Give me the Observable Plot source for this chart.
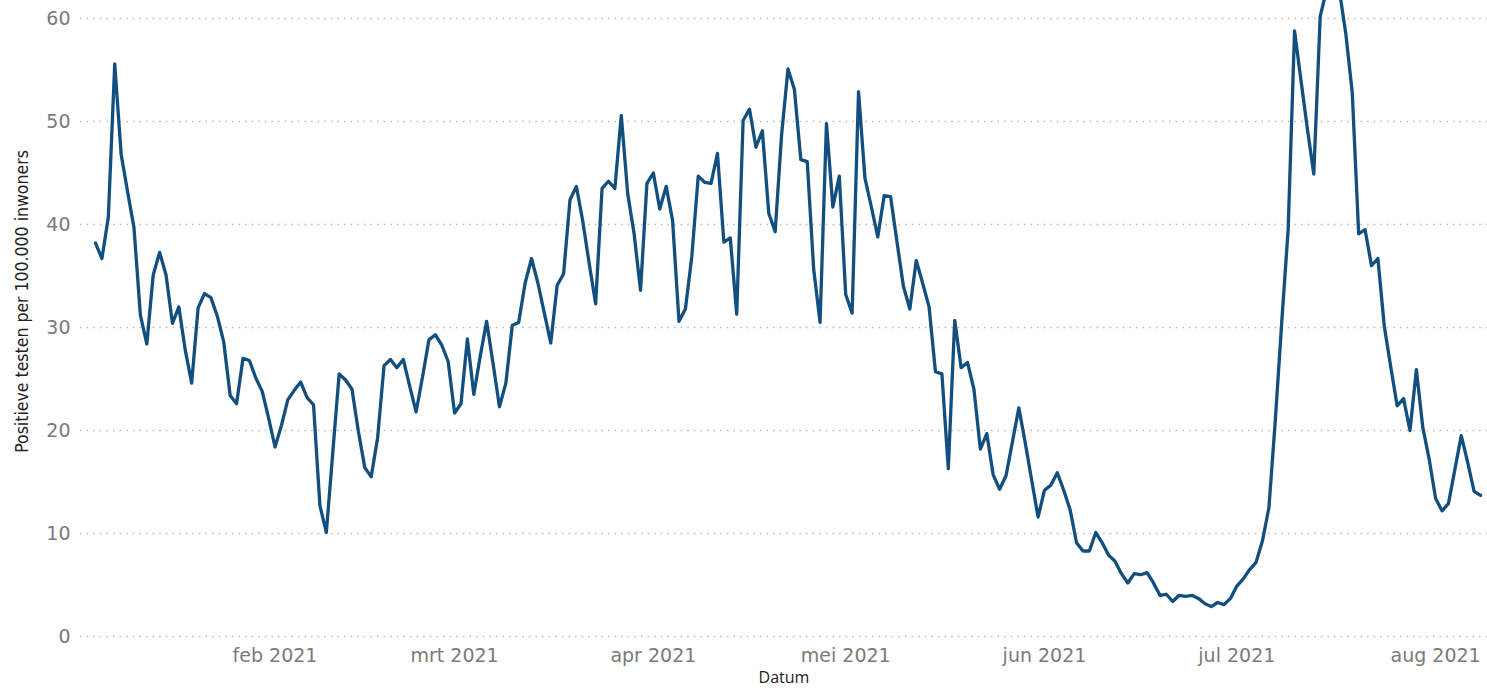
<!DOCTYPE html>
<html><head><meta charset="utf-8">
<script src="https://cdn.jsdelivr.net/npm/d3@7"></script>
<script src="https://cdn.jsdelivr.net/npm/@observablehq/plot@0.6"></script>
<style>
html,body{margin:0;padding:0;background:#fff;}
</style></head><body><div id="chart"></div>
<script>
const startDate = "2021-01-04";
const values = [
  38.2, 36.7, 40.7, 55.6, 46.8, 43.2, 39.7, 31.2, 28.4, 35.1,
  37.3, 35.1, 30.4, 32.0, 27.8, 24.6, 31.9, 33.3, 32.9, 31.1,
  28.6, 23.4, 22.6, 27.0, 26.8, 25.1, 23.8, 21.2, 18.4, 20.5,
  23.0, 23.9, 24.7, 23.2, 22.5, 12.7, 10.1, 17.8, 25.5, 24.9,
  24.0, 19.9, 16.4, 15.5, 19.3, 26.3, 26.9, 26.1, 26.9, 24.3,
  21.8, 25.2, 28.8, 29.3, 28.3, 26.7, 21.7, 22.6, 28.9, 23.5,
  27.2, 30.6, 26.5, 22.3, 24.6, 30.2, 30.5, 34.3, 36.7, 34.3,
  31.4, 28.5, 34.1, 35.2, 42.4, 43.7, 40.3, 36.2, 32.3, 43.5,
  44.2, 43.5, 50.6, 43.0, 39.1, 33.6, 44.0, 45.0, 41.5, 43.7,
  40.4, 30.6, 31.8, 36.9, 44.7, 44.1, 44.0, 46.9, 38.3, 38.7,
  31.3, 50.1, 51.2, 47.5, 49.1, 41.1, 39.3, 48.7, 55.1, 53.1,
  46.3, 46.1, 35.7, 30.5, 49.8, 41.7, 44.7, 33.2, 31.4, 52.9,
  44.5, 41.7, 38.8, 42.8, 42.7, 38.3, 34.0, 31.8, 36.5, 34.3,
  32.0, 25.7, 25.5, 16.3, 30.7, 26.1, 26.6, 24.0, 18.2, 19.7,
  15.7, 14.3, 15.6, 18.9, 22.2, 18.8, 15.2, 11.6, 14.2, 14.7,
  15.9, 14.2, 12.3, 9.1, 8.3, 8.3, 10.1, 9.1, 7.9, 7.3,
  6.1, 5.2, 6.1, 6.0, 6.2, 5.2, 4.0, 4.1, 3.4, 4.0,
  3.9, 4.0, 3.7, 3.2, 2.9, 3.3, 3.1, 3.7, 4.9, 5.6,
  6.5, 7.2, 9.3, 12.5, 21.0, 30.5, 39.5, 58.8, 54.0, 49.3,
  44.9, 60.2, 62.8, 64.0, 62.7, 58.5, 52.8, 39.1, 39.5, 36.0,
  36.7, 30.1, 26.2, 22.4, 23.1, 20.0, 25.9, 20.3, 17.2, 13.4,
  12.2, 12.9, 16.2, 19.5, 16.9, 14.1, 13.7
];
const tickDates = ["2021-02-01", "2021-03-01", "2021-04-01", "2021-05-01", "2021-06-01", "2021-07-01", "2021-08-01"];
const tickLabels = ["feb 2021", "mrt 2021", "apr 2021", "mei 2021", "jun 2021", "jul 2021", "aug 2021"];
const yTicks = [0, 10, 20, 30, 40, 50, 60];
const yLabel = "Positieve testen per 100.000 inwoners";
const xLabel = "Datum";

const parse = s => new Date(s + "T00:00:00Z");
const start = parse(startDate);
const data = values.map((v, i) => ({date: d3.utcDay.offset(start, i), value: v}));
const ticks = tickDates.map(parse);
const labelByTime = new Map(ticks.map((d, i) => [+d, tickLabels[i]]));

const tickFont = "'DejaVu Sans', sans-serif";

const chart = Plot.plot({
  width: 1487,
  height: 693,
  marginLeft: 80,
  marginRight: 0,
  marginTop: 0,
  marginBottom: 57,
  style: {background: "#fff", overflow: "visible"},
  x: {type: "utc", domain: [start, d3.utcDay.offset(start, values.length - 1)], range: [95, 1480]},
  y: {domain: [0, 61.75]},
  marks: [
    Plot.gridY(yTicks, {stroke: "#bdbdbd", strokeOpacity: 1, strokeWidth: 1.6, strokeDasharray: "1.6,5"}),
    Plot.axisY(yTicks, {tickSize: 0, tickPadding: 10, label: null, fontSize: 19, fill: "#7a7a7a", fontFamily: tickFont}),
    Plot.axisX(ticks, {anchor: "bottom", tickSize: 0, tickPadding: 12, label: null, tickFormat: d => labelByTime.get(+d), fontSize: 19, fill: "#7a7a7a", fontFamily: tickFont}),
    Plot.lineY(data, {x: "date", y: "value", stroke: "#124f7e", strokeWidth: 3.3, clip: true}),
    Plot.text([yLabel], {frameAnchor: "left", textAnchor: "middle", rotate: -90, dx: -58, dy: -17, fontSize: 17.5, fill: "#222", fontFamily: "'DejaVu Sans Condensed', 'Liberation Sans Narrow', sans-serif"}),
    Plot.text([xLabel], {frameAnchor: "bottom", dy: 46, fontSize: 16, fill: "#222", fontFamily: "'Open Sans', sans-serif"})
  ]
});
document.getElementById("chart").appendChild(chart);
</script>
</body></html>
